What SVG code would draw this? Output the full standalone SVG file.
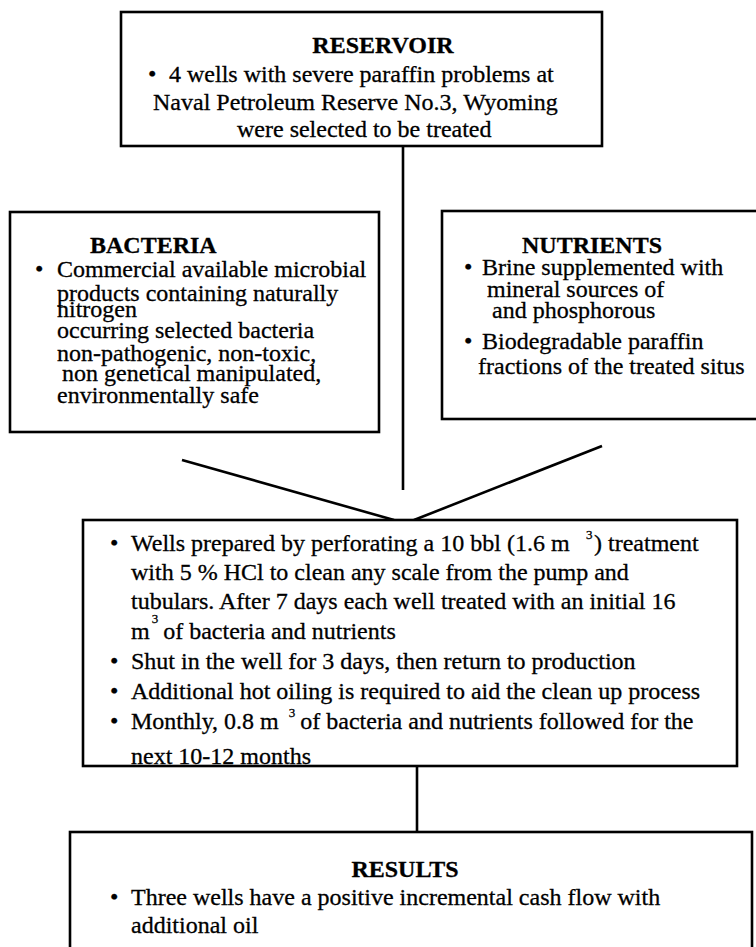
<svg xmlns="http://www.w3.org/2000/svg" width="756" height="947" viewBox="0 0 756 947">
  <style>
    .box { fill: #fff; stroke: #000; stroke-width: 2.6; }
    .t { font-family: "Liberation Serif", "Times New Roman", serif; font-size: 24px; fill: #000; stroke: #000; stroke-width: 0.3; }
    .h { font-weight: bold; }
    .sup { font-size: 13px; }
    .link { stroke: #000; stroke-width: 2.6; fill: none; }
  </style>
  <rect width="756" height="947" fill="#fff"/>

  <!-- connectors -->
  <g id="connectors">
    <line class="link" x1="403" y1="146" x2="403" y2="490"/>
    <line class="link" x1="182" y1="460" x2="394" y2="520"/>
    <line class="link" x1="602" y1="446" x2="414" y2="520"/>
    <line class="link" x1="417" y1="766" x2="417" y2="832"/>
  </g>

  <!-- reservoir -->
  <g id="reservoir">
    <rect class="box" x="121" y="12" width="481" height="134"/>
    <text class="t h" x="383" y="53" text-anchor="middle">RESERVOIR</text>
    <text class="t" x="148" y="82">•</text>
    <text class="t" x="169" y="82">4 wells with severe paraffin problems at</text>
    <text class="t" x="153" y="110">Naval Petroleum Reserve No.3, Wyoming</text>
    <text class="t" x="237" y="137">were selected to be treated</text>
  </g>

  <!-- bacteria -->
  <g id="bacteria">
    <rect class="box" x="10" y="212" width="369" height="220"/>
    <text class="t h" x="90" y="253">BACTERIA</text>
    <text class="t" x="35" y="277">•</text>
    <text class="t" x="57" y="277">Commercial available microbial</text>
    <text class="t" x="57" y="301">products containing naturally</text>
    <text class="t" x="57" y="317">nitrogen</text>
    <text class="t" x="57" y="338">occurring selected bacteria</text>
    <text class="t" x="57" y="361">non-pathogenic, non-toxic,</text>
    <text class="t" x="62" y="381">non genetical manipulated,</text>
    <text class="t" x="57" y="403">environmentally safe</text>
  </g>

  <!-- nutrients -->
  <g id="nutrients">
    <rect class="box" x="442" y="211" width="330" height="208"/>
    <text class="t h" x="522" y="253">NUTRIENTS</text>
    <text class="t" x="464" y="275">•</text>
    <text class="t" x="482" y="275">Brine supplemented with</text>
    <text class="t" x="487" y="297">mineral sources of</text>
    <text class="t" x="492" y="318">and phosphorous</text>
    <text class="t" x="464" y="349">•</text>
    <text class="t" x="482" y="349">Biodegradable paraffin</text>
    <text class="t" x="478" y="374">fractions of the treated situs</text>
  </g>

  <!-- treatment -->
  <g id="treatment">
    <rect class="box" x="83" y="520" width="654" height="246"/>
    <text class="t" x="110" y="551">•</text>
    <text class="t" x="131" y="551">Wells prepared by perforating a 10 bbl (1.6 m<tspan class="sup" x="586" dy="-12">3</tspan><tspan x="594" dy="12">) treatment</tspan></text>
    <text class="t" x="131" y="580">with 5 % HCl to clean any scale from the pump and</text>
    <text class="t" x="131" y="609">tubulars. After 7 days each well treated with an initial 16</text>
    <text class="t" x="131" y="639">m<tspan class="sup" dx="2" dy="-16">3</tspan><tspan dx="5" dy="16">of bacteria and nutrients</tspan></text>
    <text class="t" x="110" y="669">•</text>
    <text class="t" x="131" y="669">Shut in the well for 3 days, then return to production</text>
    <text class="t" x="110" y="699">•</text>
    <text class="t" x="131" y="699">Additional hot oiling is required to aid the clean up process</text>
    <text class="t" x="110" y="729">•</text>
    <text class="t" x="131" y="729">Monthly, 0.8 m<tspan class="sup" dx="10" dy="-12">3</tspan><tspan dx="5" dy="12">of bacteria and nutrients followed for the</tspan></text>
    <text class="t" x="131" y="764">next 10-12 months</text>
  </g>

  <!-- results -->
  <g id="results">
    <rect class="box" x="70" y="832" width="682" height="120"/>
    <text class="t h" x="405" y="877" text-anchor="middle">RESULTS</text>
    <text class="t" x="110" y="905">•</text>
    <text class="t" x="131" y="905">Three wells have a positive incremental cash flow with</text>
    <text class="t" x="131" y="933">additional oil</text>
  </g>
</svg>
